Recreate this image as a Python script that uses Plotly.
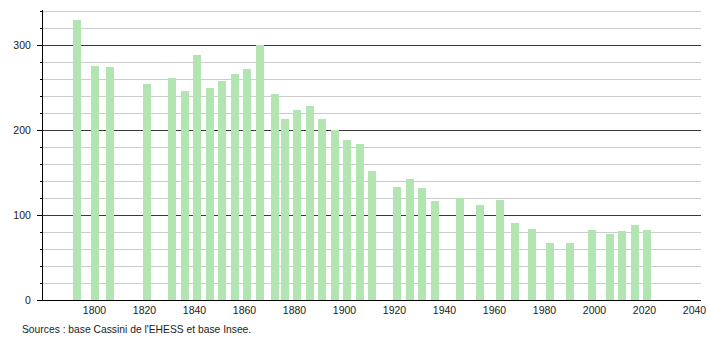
import plotly.graph_objects as go

years = [1793, 1800, 1806, 1821, 1831, 1836, 1841, 1846, 1851, 1856, 1861, 1866,
         1872, 1876, 1881, 1886, 1891, 1896, 1901, 1906, 1911, 1921, 1926, 1931,
         1936, 1946, 1954, 1962, 1968, 1975, 1982, 1990, 1999, 2006, 2011, 2016, 2021]
population = [330, 275, 274, 254, 261, 246, 288, 250, 258, 266, 272, 300,
              242, 213, 224, 229, 213, 200, 188, 184, 152, 133, 142, 132,
              117, 120, 112, 118, 91, 84, 67, 67, 82, 78, 81, 88, 82]
x_ticks = [1800, 1820, 1840, 1860, 1880, 1900, 1920, 1940, 1960, 1980, 2000, 2020, 2040]
y_ticks = [0, 100, 200, 300]
source_text = "Sources : base Cassini de l'EHESS et base Insee."

fig = go.Figure(go.Bar(
    x=years, y=population, width=3.2,
    marker=dict(color="#b2e5b2", line=dict(width=0)),
    hoverinfo="x+y",
))

fig.update_layout(
    width=710, height=340,
    margin=dict(l=43, r=9, t=10, b=40, autoexpand=False),
    paper_bgcolor="white", plot_bgcolor="white",
    font=dict(family="Liberation Sans, Arial, sans-serif", size=10.5, color="#222"),
    showlegend=False,
    bargap=0,
)
fig.update_xaxes(
    range=[1779.4, 2042.6],
    tickmode="array", tickvals=x_ticks,
    showgrid=False, zeroline=False, automargin=False,
    showline=True, linecolor="black", linewidth=1,
    ticks="", ticklen=0,
)
fig.update_yaxes(
    range=[0, 341.5],
    tickmode="array", tickvals=y_ticks,
    showgrid=True, gridcolor="#3a3a3a", gridwidth=1,
    zeroline=False, automargin=False,
    showline=True, linecolor="black", linewidth=1,
    ticks="outside", ticklen=5, tickcolor="black",
    minor=dict(dtick=20, showgrid=True, gridcolor="#cccccc", gridwidth=1,
               ticks="outside", ticklen=2, tickcolor="black"),
    ticklabelstandoff=4,
)
fig.add_annotation(
    text=source_text, xref="paper", yref="paper",
    x=(20 - 43) / 658, y=-29 / 290, xanchor="left", yanchor="middle",
    showarrow=False, font=dict(size=10.3, color="#222"),
)

fig.write_html("out.html")
